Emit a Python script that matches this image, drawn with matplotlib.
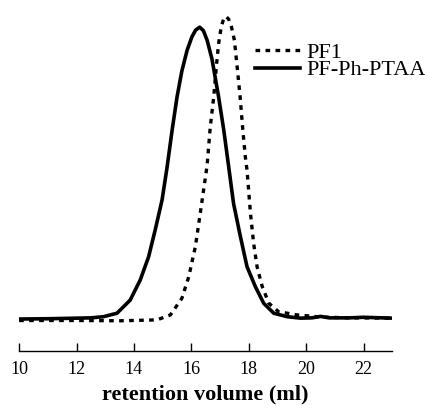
import matplotlib
matplotlib.use('Agg')
import matplotlib.pyplot as plt

# GPC traces (retention volume in ml, normalised signal)
vol_ptaa = [10.0, 11.0, 12.0, 12.5, 12.94, 13.41, 13.87, 14.22, 14.51, 14.74, 14.98,
            15.15, 15.33, 15.50, 15.67, 15.85, 16.02, 16.15, 16.29, 16.42, 16.55,
            16.72, 16.95, 17.13, 17.30, 17.47, 17.71, 17.94, 18.23, 18.52, 18.87,
            19.34, 19.8, 20.2, 20.5, 20.8, 21.5, 22.0, 23.0]
sig_ptaa = [0.0, 0.001, 0.003, 0.004, 0.008, 0.020, 0.065, 0.134, 0.213, 0.305, 0.408,
            0.517, 0.647, 0.76, 0.85, 0.92, 0.967, 0.99, 1.0, 0.988, 0.955,
            0.89, 0.761, 0.647, 0.522, 0.396, 0.282, 0.179, 0.111, 0.054, 0.020,
            0.008, 0.003, 0.004, 0.009, 0.004, 0.004, 0.006, 0.003]

vol_pf1 = [10.0, 12.0, 13.52, 14.80, 15.27, 15.67, 15.91, 16.14, 16.31, 16.55, 16.66,
           16.78, 16.87, 16.95, 17.04, 17.12, 17.21, 17.30, 17.40, 17.50, 17.60,
           17.70, 17.80, 17.88, 17.94, 18.06, 18.17, 18.29, 18.47, 18.70, 19.04,
           19.69, 20.5, 21.5, 23.0]
sig_pf1 = [-0.005, -0.005, -0.006, -0.003, 0.014, 0.071, 0.145, 0.248, 0.362, 0.527, 0.659,
           0.761, 0.864, 0.944, 1.0, 1.027, 1.037, 1.027, 1.0, 0.955, 0.86,
           0.76, 0.64, 0.556, 0.510, 0.362, 0.259, 0.179, 0.111, 0.054, 0.025,
           0.014, 0.007, 0.004, 0.003]

xticks = [10, 12, 14, 16, 18, 20, 22]

serif = ['Liberation Serif', 'DejaVu Serif']

fig = plt.figure(figsize=(4.25, 4.05), dpi=100)
ax = fig.add_axes([0.045, 0.133, 0.878, 0.854])

ax.plot(vol_pf1, sig_pf1, color='black', lw=2.4, linestyle=(0, (1.4, 1.6)), label='PF1')
ax.plot(vol_ptaa, sig_ptaa, color='black', lw=2.6, label='PF-Ph-PTAA')

ax.set_xlim(10, 23)
ax.set_ylim(-0.11, 1.075)
ax.set_yticks([])
for side in ['left', 'right', 'top']:
    ax.spines[side].set_visible(False)
ax.spines['bottom'].set_linewidth(1.0)
ax.set_xticks(xticks)
ax.set_xticklabels([str(t) for t in xticks], family=serif, fontsize=13)
ax.tick_params(axis='x', direction='in', length=6, width=1.0, pad=7)
ax.set_xlabel('retention volume (ml)', family=serif, fontsize=16, fontweight='bold', labelpad=5)

leg = ax.legend(loc='upper left', bbox_to_anchor=(0.633, 0.892), frameon=False,
                borderaxespad=0, borderpad=0,
                prop={'family': serif, 'size': 16}, handlelength=2.0,
                handletextpad=0.3, labelspacing=-0.15)

fig.savefig('out.png', dpi=100)
